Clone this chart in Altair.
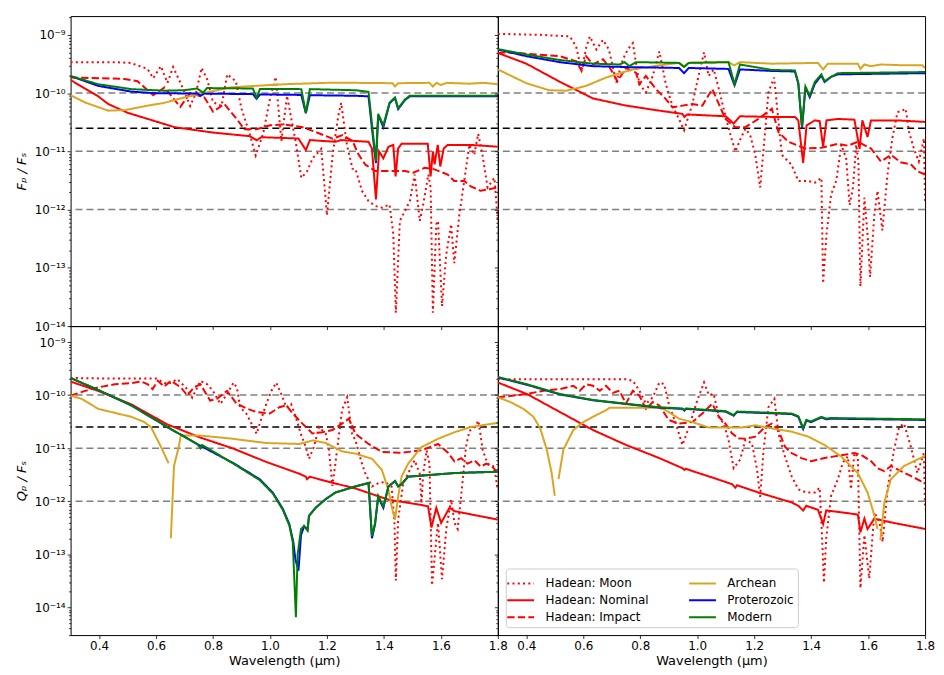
import altair as alt
import pandas as pd

SERIES = ["Hadean: Moon", "Hadean: Nominal", "Hadean: Impact", "Archean", "Proterozoic", "Modern"]
LEGEND_ORDER = SERIES
COLOR_OF = {"Hadean: Moon": "#ff0000", "Hadean: Nominal": "#ff0000", "Hadean: Impact": "#ff0000",
            "Archean": "#daa520", "Proterozoic": "#0000ff", "Modern": "#008000"}
DASH_OF = {"Hadean: Moon": [2, 3.3], "Hadean: Nominal": [1, 0], "Hadean: Impact": [7.4, 3.2],
           "Archean": [1, 0], "Proterozoic": [1, 0], "Modern": [1, 0]}

XTICKS = [0.4, 0.6, 0.8, 1.0, 1.2, 1.4, 1.6, 1.8]
HLINES_GRAY = [1e-10, 1e-11, 1e-12]
HLINE_BLACK = [2.5e-11]
GAP = None

# ---------------- top-left (F_p / F_s) ----------------
TL_MOON = [(0.30,3.4e-10),(0.45,3.4e-10),(0.51,3.3e-10),(0.57,2.6e-10),(0.59,1.8e-10),(0.617,2.9e-10),(0.64,1.5e-10),
           (0.66,2.8e-10),(0.69,1.35e-10),(0.72,6e-11),(0.74,1.0e-10),(0.76,2.7e-10),(0.78,1.7e-10),(0.80,7e-11),
           (0.83,6e-11),(0.85,2.1e-10),(0.88,1.6e-10),(0.90,5.4e-11),(0.93,1.9e-11),(0.95,8.5e-12),(0.976,2.0e-11),
           (1.00,8e-11),(1.02,1.9e-10),(1.04,1.5e-11),(1.06,9e-11),(1.075,3.6e-11),(1.09,1.5e-11),(1.11,3.5e-12),
           (1.13,4.5e-12),(1.15,7.6e-12),(1.18,1.1e-11),(1.195,1.6e-12),(1.20,8e-13),(1.22,8.7e-12),(1.24,4.1e-11),
           (1.25,6.8e-11),(1.27,1.3e-11),(1.29,5e-12),(1.30,5e-12),(1.323,2.1e-12),(1.346,1.4e-12),(1.37,1.15e-12),
           (1.393,1.08e-12),(1.42,1.22e-12),(1.433,3.8e-13),(1.442,1.7e-14),(1.456,6.4e-13),(1.474,9.5e-13),
           (1.491,1.4e-12),(1.508,4e-12),(1.526,6.4e-13),(1.538,1.22e-12),(1.556,4e-12),(1.564,2.4e-12),
           (1.572,1.7e-14),(1.584,5.6e-13),(1.59,6.4e-13),(1.604,2.2e-14),(1.619,1.7e-13),(1.636,5.6e-13),
           (1.647,1.2e-13),(1.665,8.3e-13),(1.682,3.1e-12),(1.70,1.3e-11),(1.717,8.7e-12),(1.731,2e-11),
           (1.746,8.7e-12),(1.764,2.4e-12),(1.788,3.5e-12),(1.80,6.4e-13)]
TL_NOM = [(0.30,1.68e-10),(0.35,1.2e-10),(0.397,8.8e-11),(0.432,6.5e-11),(0.50,4.6e-11),(0.571,3.6e-11),(0.665,2.6e-11),
          (0.80,2.1e-11),(0.93,1.82e-11),(0.953,1.55e-11),(0.97,1.75e-11),(1.10,1.66e-11),(1.126,1.05e-11),
          (1.14,1.56e-11),(1.23,1.46e-11),(1.25,1.56e-11),(1.346,1.46e-11),(1.358,1.12e-11),(1.372,1.5e-12),
          (1.383,1e-11),(1.398,7.6e-12),(1.416,1.2e-11),(1.433,1.29e-11),(1.441,3.7e-12),(1.45,1.12e-11),
          (1.462,1.35e-11),(1.554,1.35e-11),(1.564,3.7e-12),(1.572,1e-11),(1.578,6e-12),(1.589,1.29e-11),
          (1.598,5.5e-12),(1.61,1.12e-11),(1.624,1.29e-11),(1.705,1.29e-11),(1.80,1.2e-11)]
TL_IMP = [(0.30,1.85e-10),(0.40,1.8e-10),(0.49,1.75e-10),(0.535,1.6e-10),(0.59,9.2e-11),(0.63,1.25e-10),(0.685,5.8e-11),
          (0.72,1.0e-10),(0.77,8.4e-11),(0.80,4.8e-11),(0.84,6.5e-11),(0.883,3.6e-11),(0.91,2.4e-11),(0.953,2.4e-11),
          (1.00,2.8e-11),(1.05,2.9e-11),(1.115,2.6e-11),(1.16,2.15e-11),(1.22,1.65e-11),(1.255,1.9e-11),
          (1.29,1.5e-11),(1.31,9e-12),(1.335,5.9e-12),(1.37,4.6e-12),(1.416,4.6e-12),(1.474,4.6e-12),
          (1.503,4.3e-12),(1.543,5.2e-12),(1.578,4.9e-12),(1.624,4e-12),(1.647,3.1e-12),(1.682,3.1e-12),
          (1.705,2.5e-12),(1.74,2.1e-12),(1.80,2.4e-12)]
TL_ARC = [(0.30,9.2e-11),(0.351,6.9e-11),(0.432,5.0e-11),(0.49,5.1e-11),(0.571,6.1e-11),(0.629,6.8e-11),(0.698,8.4e-11),
          (0.768,1.0e-10),(0.86,1.25e-10),(0.947,1.33e-10),(1.05,1.42e-10),(1.20,1.5e-10),(1.30,1.5e-10),
          (1.43,1.48e-10),(1.439,1.3e-10),(1.45,1.48e-10),(1.56,1.5e-10),(1.572,1.3e-10),(1.585,1.5e-10),
          (1.60,1.38e-10),(1.62,1.5e-10),(1.70,1.45e-10),(1.75,1.5e-10),(1.80,1.42e-10)]
TL_PRO = [(0.30,1.96e-10),(0.397,1.33e-10),(0.513,1.06e-10),(0.59,1.0e-10),(0.745,9.8e-11),(0.757,9e-11),(0.77,9.8e-11),
          (0.94,9.6e-11),(0.953,8.0e-11),(0.965,9.5e-11),(1.11,9.3e-11),(1.126,4.5e-11),(1.14,9.2e-11),(1.30,9e-11),
          (1.346,8.8e-11),(1.358,2.5e-11),(1.372,6.3e-12),(1.38,4.2e-11),(1.398,2.6e-11),(1.42,6.7e-11),
          (1.439,8.2e-11),(1.45,5.3e-11),(1.474,7.6e-11),(1.491,8.8e-11),(1.80,8.8e-11)]
TL_MOD = [(0.30,1.96e-10),(0.397,1.42e-10),(0.513,1.17e-10),(0.629,1.1e-10),(0.698,1.12e-10),(0.744,1.2e-10),
          (0.765,1.02e-10),(0.779,1.22e-10),(0.94,1.2e-10),(0.953,8.3e-11),(0.965,1.18e-10),(1.11,1.17e-10),
          (1.126,4.6e-11),(1.14,1.17e-10),(1.30,1.12e-10),(1.346,1.05e-10),(1.358,3.0e-11),(1.372,6.7e-12),
          (1.38,4.4e-11),(1.398,2.8e-11),(1.42,6.9e-11),(1.439,8.4e-11),(1.45,5.5e-11),(1.474,7.8e-11),
          (1.491,9e-11),(1.80,9e-11)]

# ---------------- top-right (F_p / F_s) ----------------
TR_MOON = [(0.30,1.04e-9),(0.45,1.0e-9),(0.553,9.4e-10),(0.575,6.3e-10),(0.594,2.4e-10),(0.61,6e-10),(0.623,9.4e-10),
           (0.646,5.6e-10),(0.669,8.2e-10),(0.69,5.6e-10),(0.716,1.52e-10),(0.739,3.8e-10),(0.756,5.6e-10),
           (0.774,7.2e-10),(0.797,1.42e-10),(0.82,1.03e-10),(0.844,1.97e-10),(0.867,5.2e-10),(0.89,1.42e-10),
           (0.913,6.1e-11),(0.936,3.6e-11),(0.954,2.3e-11),(0.983,6.5e-11),(1.006,2.1e-10),(1.024,5.0e-10),
           (1.04,1.97e-10),(1.058,2.55e-10),(1.076,1.17e-10),(1.099,4.1e-11),(1.117,1.9e-11),(1.134,9.9e-12),
           (1.15,1.56e-11),(1.169,2.45e-11),(1.186,1.9e-11),(1.204,8.7e-12),(1.221,2.4e-12),(1.233,1.1e-11),
           (1.25,1.03e-10),(1.27,1.85e-10),(1.297,8.7e-12),(1.331,5.9e-12),(1.355,3.1e-12),(1.39,3.1e-12),
           (1.413,2.9e-12),(1.436,3.5e-12),(1.442,5.4e-14),(1.454,3.8e-13),(1.47,1.8e-12),(1.488,3.1e-12),
           (1.506,1.3e-11),(1.523,7.6e-12),(1.535,1.2e-12),(1.547,2.4e-12),(1.558,1.3e-11),(1.566,6.7e-12),
           (1.573,4.8e-14),(1.587,1.6e-12),(1.598,3.8e-13),(1.607,7e-14),(1.622,8.3e-13),(1.633,2.1e-12),
           (1.65,4.4e-13),(1.668,4e-12),(1.685,1.66e-11),(1.703,4.7e-11),(1.72,5e-11),(1.732,5.4e-11),
           (1.744,2.15e-11),(1.761,1.1e-11),(1.778,6.7e-12),(1.796,1.66e-11),(1.80,1.4e-12)]
TR_NOM = [(0.30,4.9e-10),(0.40,3.2e-10),(0.518,1.56e-10),(0.634,8.1e-11),(0.75,6.1e-11),(0.867,5.0e-11),(0.948,4.4e-11),
          (0.955,3.9e-11),(0.965,4.3e-11),(1.10,4.0e-11),(1.128,3.0e-11),(1.15,4.0e-11),(1.262,3.9e-11),
          (1.343,3.9e-11),(1.355,3.4e-11),(1.372,6.3e-12),(1.384,2.8e-11),(1.413,3.4e-11),(1.43,3.3e-11),
          (1.442,1.2e-11),(1.454,3.4e-11),(1.494,3.6e-11),(1.552,3.5e-11),(1.57,1.1e-11),(1.58,3.4e-11),
          (1.598,1.77e-11),(1.61,3.4e-11),(1.703,3.4e-11),(1.80,3.2e-11)]
TR_IMP = [(0.30,4.9e-10),(0.344,5.0e-10),(0.437,4.6e-10),(0.518,4.3e-10),(0.576,3.5e-10),(0.594,2.4e-10),(0.61,4.3e-10),
          (0.634,3.1e-10),(0.669,3.8e-10),(0.69,2.9e-10),(0.72,1.6e-10),(0.75,2.7e-10),(0.785,2.24e-10),
          (0.797,1.42e-10),(0.82,1.97e-10),(0.855,1.17e-10),(0.89,7.9e-11),(0.913,5.7e-11),(0.948,6.1e-11),
          (0.983,6.5e-11),(1.018,6.1e-11),(1.053,1.17e-10),(1.099,3.6e-11),(1.134,2.6e-11),(1.169,2.6e-11),
          (1.215,3.6e-11),(1.262,5.4e-11),(1.285,2.15e-11),(1.32,1.46e-11),(1.378,1.12e-11),(1.436,1.15e-11),
          (1.494,1.35e-11),(1.529,1.25e-11),(1.564,1.46e-11),(1.61,1.12e-11),(1.645,6.7e-12),(1.68,8.7e-12),
          (1.714,6.5e-12),(1.75,6e-12),(1.772,4.6e-12),(1.80,4e-12)]
TR_ARC = [(0.30,2.55e-10),(0.40,1.48e-10),(0.48,1.12e-10),(0.54,1.1e-10),(0.61,1.33e-10),(0.68,1.85e-10),(0.774,2.55e-10),
          (0.867,3.0e-10),(0.936,3.3e-10),(0.954,2.9e-10),(0.97,3.3e-10),(1.11,3.4e-10),(1.13,3.0e-10),(1.15,3.4e-10),
          (1.262,3.2e-10),(1.424,3.3e-10),(1.442,2.55e-10),(1.459,3.2e-10),(1.564,3.2e-10),(1.573,2.6e-10),
          (1.587,3.1e-10),(1.61,2.9e-10),(1.645,3.1e-10),(1.726,3.0e-10),(1.79,3.0e-10),(1.80,2.7e-10)]
TR_PRO = [(0.30,5.6e-10),(0.40,4.3e-10),(0.518,3.4e-10),(0.634,2.9e-10),(0.75,2.8e-10),(0.936,2.7e-10),(0.954,2.2e-10),
          (0.97,2.7e-10),(1.11,2.6e-10),(1.131,1.36e-10),(1.15,2.55e-10),(1.262,2.4e-10),(1.343,2.35e-10),
          (1.355,1.45e-10),(1.368,2.5e-11),(1.38,1.25e-10),(1.395,8.5e-11),(1.413,1.45e-10),(1.436,2.0e-10),
          (1.447,1.55e-10),(1.47,1.9e-10),(1.494,2.1e-10),(1.80,2.2e-10)]
TR_MOD = [(0.30,5.7e-10),(0.40,4.6e-10),(0.518,3.7e-10),(0.634,3.2e-10),(0.727,3.1e-10),(0.745,3.4e-10),(0.762,2.9e-10),
          (0.785,3.4e-10),(0.936,3.3e-10),(0.954,2.8e-10),(0.97,3.3e-10),(1.11,3.4e-10),(1.131,1.42e-10),
          (1.15,3.1e-10),(1.262,2.5e-10),(1.343,2.45e-10),(1.355,1.5e-10),(1.368,2.6e-11),(1.38,1.3e-10),
          (1.395,9e-11),(1.413,1.55e-10),(1.436,2.1e-10),(1.447,1.6e-10),(1.47,1.9e-10),(1.494,2.2e-10),(1.80,2.3e-10)]

# ---------------- bottom-left (Q_p / F_s) ----------------
BL_MOON = [(0.30,2.1e-10),(0.45,2.05e-10),(0.60,2.05e-10),(0.64,1.6e-10),(0.675,2.0e-10),(0.71,1.29e-10),(0.727,9e-11),
           (0.756,1.84e-10),(0.78,1.6e-10),(0.80,1.2e-10),(0.826,6.8e-11),(0.849,1.04e-10),(0.872,1.72e-10),
           (0.884,1.38e-10),(0.895,5.9e-11),(0.918,4.4e-11),(0.941,2.5e-11),(0.953,1.87e-11),(0.964,2.9e-11),
           (0.987,6.8e-11),(1.005,1.2e-10),(1.022,1.72e-10),(1.04,1.04e-10),(1.057,5.9e-11),(1.074,6.8e-11),
           (1.091,3.8e-11),(1.108,1.87e-11),(1.126,1.05e-11),(1.137,6.3e-12),(1.154,1.05e-11),(1.172,2.5e-11),
           (1.196,1.87e-11),(1.207,9.3e-12),(1.219,1.94e-12),(1.23,5.3e-12),(1.253,5.2e-11),(1.271,9.1e-11),
           (1.288,1.9e-11),(1.30,1.4e-11),(1.323,5.1e-12),(1.335,3.3e-12),(1.358,1.9e-12),(1.381,2.2e-12),
           (1.404,2.3e-12),(1.427,1.9e-12),(1.437,3.9e-13),(1.442,3.2e-14),(1.45,4.5e-13),(1.468,2.2e-12),
           (1.491,3.9e-12),(1.508,5.9e-12),(1.526,3.3e-12),(1.532,9.1e-13),(1.538,3.3e-12),(1.55,9.1e-12),
           (1.56,5.1e-12),(1.569,2.6e-14),(1.584,1.9e-13),(1.59,3.9e-13),(1.604,3.4e-14),(1.619,3.0e-13),
           (1.636,1.07e-12),(1.648,3.9e-13),(1.659,3.0e-13),(1.671,1.23e-12),(1.688,1.05e-11),(1.70,2.1e-11),
           (1.718,2.5e-11),(1.732,3.3e-11),(1.747,9.1e-12),(1.764,5.1e-12),(1.787,4.5e-12),(1.80,1.6e-12)]
BL_NOM = [(0.30,1.8e-10),(0.397,1.2e-10),(0.513,6.7e-11),(0.64,2.8e-11),(0.756,1.58e-11),(0.872,9.8e-12),(0.987,5.5e-12),
          (1.103,3.3e-12),(1.126,2.9e-12),(1.13,2.6e-12),(1.14,2.9e-12),(1.196,2.4e-12),(1.30,1.74e-12),
          (1.416,1.07e-12),(1.532,8.5e-13),(1.555,8e-13),(1.567,3.2e-13),(1.584,7.5e-13),(1.601,3.9e-13),
          (1.63,7.5e-13),(1.648,6.5e-13),(1.80,4.5e-13)]
BL_IMP = [(0.30,9.8e-11),(0.351,1.2e-10),(0.397,1.4e-10),(0.455,1.6e-10),(0.513,1.68e-10),(0.548,1.8e-10),(0.571,1.6e-10),
          (0.588,1.3e-10),(0.606,1.86e-10),(0.629,1.45e-10),(0.652,1.86e-10),(0.687,1.4e-10),(0.71,9.8e-11),
          (0.733,1.4e-10),(0.756,1.6e-10),(0.79,7.9e-11),(0.814,8.5e-11),(0.849,1.2e-10),(0.883,6.9e-11),
          (0.918,5.6e-11),(0.952,4.8e-11),(0.999,4.5e-11),(1.033,5.9e-11),(1.057,6.4e-11),(1.08,4.5e-11),
          (1.114,2.9e-11),(1.149,1.9e-11),(1.184,2.0e-11),(1.219,2.2e-11),(1.253,2.9e-11),(1.277,3.6e-11),
          (1.30,1.87e-11),(1.346,1.2e-11),(1.393,8.5e-12),(1.462,8.2e-12),(1.532,9.1e-12),(1.59,1.2e-11),
          (1.625,8.2e-12),(1.648,5.6e-12),(1.671,6.5e-12),(1.694,5.1e-12),(1.718,5.9e-12),(1.74,4.5e-12),
          (1.76,5.1e-12),(1.78,4.5e-12),(1.80,3.4e-12)]
BL_ARC = [(0.30,9.8e-11),(0.339,8.5e-11),(0.397,5.5e-11),(0.513,3.9e-11),(0.559,3.1e-11),(0.582,2.5e-11),(0.617,1.07e-11),
          (0.644,5.2e-12), GAP,
          (0.652,2.0e-13),(0.663,4.6e-12),(0.68,1.07e-11),(0.687,1.73e-11),(0.756,1.73e-11),(0.872,1.5e-11),
          (0.987,1.25e-11),(1.103,1.2e-11),(1.15,1.4e-11),(1.196,1.25e-11),(1.253,8.7e-12),(1.30,7.9e-12),
          (1.358,6.3e-12),(1.393,3.9e-12),(1.416,1.6e-12),(1.427,8e-13),(1.439,4.5e-13),(1.45,1.23e-12),
          (1.462,2.9e-12),(1.485,5.1e-12),(1.532,1.05e-11),(1.59,1.5e-11),(1.648,2.0e-11),(1.705,2.5e-11),
          (1.80,3.0e-11)]
BL_PRO = [(0.30,2.1e-10),(0.397,1.25e-10),(0.513,6.4e-11),(0.64,2.5e-11),(0.744,1.2e-11),(0.872,5.2e-12),(0.964,2.6e-12),
          (1.01,1.45e-12),(1.045,7.2e-13),(1.068,3.7e-13),(1.082,1.7e-13),(1.089,8.1e-14),(1.10,4.9e-14),
          (1.109,2.3e-13),(1.12,3.4e-13),(1.132,2.9e-13),(1.137,5.3e-13),(1.16,7.5e-13),(1.196,1.1e-12),
          (1.23,1.46e-12),(1.30,1.9e-12),(1.346,2.2e-12),(1.358,2.0e-13),(1.369,3.7e-13),(1.38,1.2e-12),
          (1.398,7.5e-13),(1.416,1.9e-12),(1.439,2.4e-12),(1.45,1.9e-12),(1.462,2.1e-12),(1.485,2.9e-12),
          (1.648,3.4e-12),(1.80,3.6e-12)]
BL_MOD = [(0.30,2.1e-10),(0.397,1.25e-10),(0.513,6.4e-11),(0.64,2.5e-11),(0.744,1.2e-11),(0.756,1.0e-11),(0.762,1.15e-11),
          (0.872,5.1e-12),(0.964,2.5e-12),(1.01,1.4e-12),(1.045,6.9e-13),(1.068,3.5e-13),(1.08,1.7e-13),
          (1.091,6.5e-15),(1.097,9.7e-14),(1.109,3.0e-13),(1.12,3.4e-13),(1.132,2.8e-13),(1.137,5.3e-13),
          (1.16,7.5e-13),(1.196,1.1e-12),(1.23,1.46e-12),(1.30,1.9e-12),(1.346,2.2e-12),(1.358,2.2e-13),
          (1.369,3.9e-13),(1.38,1.26e-12),(1.398,8e-13),(1.416,1.9e-12),(1.439,2.4e-12),(1.45,1.9e-12),
          (1.462,2.1e-12),(1.485,2.9e-12),(1.648,3.4e-12),(1.80,3.6e-12)]

# ---------------- bottom-right (Q_p / F_s) ----------------
BR_MOON = [(0.30,2.0e-10),(0.50,2.0e-10),(0.75,2.0e-10),(0.774,1.86e-10),(0.797,1.21e-10),(0.82,6.9e-11),(0.844,9.1e-11),
           (0.867,1.73e-10),(0.884,1.61e-10),(0.90,6.9e-11),(0.925,2.9e-11),(0.948,1.15e-11),(0.971,2.5e-11),
           (1.0,7.9e-11),(1.024,1.73e-10),(1.041,1.0e-10),(1.058,1.05e-10),(1.076,3.9e-11),(1.093,2.9e-11),
           (1.11,1.43e-11),(1.128,4.2e-12),(1.151,6.1e-12),(1.169,1.43e-11),(1.192,1.24e-11),(1.21,4.0e-12),
           (1.221,1.2e-12),(1.233,9.3e-12),(1.25,5.9e-11),(1.271,8.5e-11),(1.285,1.9e-11),(1.308,7.0e-12),
           (1.331,3.0e-12),(1.355,1.68e-12),(1.383,1.46e-12),(1.413,1.46e-12),(1.43,1.8e-12),(1.436,4.0e-13),
           (1.445,2.9e-14),(1.453,2.0e-13),(1.47,1.26e-12),(1.494,2.6e-12),(1.511,5.3e-12),(1.529,7.0e-12),
           (1.54,1.68e-12),(1.552,8.1e-12),(1.564,7.0e-12),(1.573,2.3e-14),(1.587,2.3e-13),(1.604,3.5e-14),
           (1.622,6.2e-13),(1.64,4.0e-13),(1.651,1.7e-13),(1.668,1.68e-12),(1.691,9.3e-12),(1.709,2.5e-11),
           (1.726,2.9e-11),(1.75,1.07e-11),(1.773,3.4e-12),(1.796,8.1e-12),(1.80,7.1e-13)]
BR_NOM = [(0.30,1.73e-10),(0.402,1.05e-10),(0.518,4.8e-11),(0.634,2.2e-11),(0.75,1.15e-11),(0.867,6.5e-12),(0.948,4.2e-12),
          (0.955,3.9e-12),(0.96,4.1e-12),(0.983,3.7e-12),(1.053,2.8e-12),(1.122,2.1e-12),(1.134,1.8e-12),
          (1.14,2.0e-12),(1.215,1.46e-12),(1.331,9.5e-13),(1.355,8.2e-13),(1.372,6.7e-13),(1.383,8.2e-13),
          (1.424,6.9e-13),(1.442,3.7e-13),(1.453,6.7e-13),(1.505,6.2e-13),(1.564,5.6e-13),(1.573,2.6e-13),
          (1.587,4.7e-13),(1.598,3.0e-13),(1.622,4.7e-13),(1.68,4.0e-13),(1.80,3.0e-13)]
BR_IMP = [(0.30,9.1e-11),(0.356,9.8e-11),(0.402,1.05e-10),(0.46,1.21e-10),(0.518,1.3e-10),(0.565,1.5e-10),(0.588,1.21e-10),
          (0.61,1.6e-10),(0.634,1.5e-10),(0.658,1.21e-10),(0.68,1.5e-10),(0.704,1.1e-10),(0.727,1.21e-10),
          (0.75,6.9e-11),(0.774,1.21e-10),(0.797,9.8e-11),(0.82,5.5e-11),(0.844,7.4e-11),(0.867,6.4e-11),
          (0.90,3.4e-11),(0.936,2.9e-11),(0.983,3.1e-11),(1.018,4.5e-11),(1.053,6.9e-11),(1.076,3.9e-11),
          (1.099,2.9e-11),(1.122,1.9e-11),(1.145,1.53e-11),(1.169,1.5e-11),(1.204,1.65e-11),(1.238,2.5e-11),
          (1.262,2.9e-11),(1.285,2.2e-11),(1.308,1.07e-11),(1.331,8.1e-12),(1.366,6.5e-12),(1.40,5.7e-12),
          (1.447,6.5e-12),(1.482,7e-12),(1.517,7.5e-12),(1.552,8.1e-12),(1.575,7.5e-12),(1.61,5.7e-12),
          (1.633,4.2e-12),(1.657,3.7e-12),(1.68,4.6e-12),(1.715,3.7e-12),(1.75,3.0e-12),(1.785,2.4e-12),(1.80,2.2e-12)]
BR_ARC = [(0.30,9.1e-11),(0.344,7.4e-11),(0.39,5.5e-11),(0.425,3.9e-11),(0.449,2.35e-11),(0.472,9.3e-12),(0.489,3.4e-12),
          (0.50,1.26e-12), GAP,
          (0.513,2.6e-12),(0.53,9.3e-12),(0.565,2.2e-11),(0.60,3.1e-11),(0.634,3.9e-11),(0.68,5.2e-11),(0.693,5.8e-11),
          (0.867,5.8e-11),(0.89,5.2e-11),(0.936,3.6e-11),(0.983,3.1e-11),(1.041,2.45e-11),(1.157,2.45e-11),
          (1.204,2.7e-11),(1.273,2.3e-11),(1.331,2.05e-11),(1.39,1.65e-11),(1.447,1.15e-11),(1.505,7e-12),
          (1.564,3.4e-12),(1.598,1.46e-12),(1.622,5.4e-13),(1.633,3.0e-13), GAP,
          (1.643,1.85e-13),(1.657,9.5e-13),(1.68,2.6e-12),(1.726,4.6e-12),(1.773,6.1e-12),(1.80,7.2e-12)]
BR_PRO = [(0.30,2.15e-10),(0.402,1.57e-10),(0.518,1.03e-10),(0.634,8.0e-11),(0.75,6.8e-11),(0.867,5.8e-11),(0.948,5.5e-11),
          (0.955,5.1e-11),(0.96,5.5e-11),(1.099,4.9e-11),(1.128,4.1e-11),(1.14,4.8e-11),(1.331,4.4e-11),
          (1.355,3.9e-11),(1.372,2.3e-11),(1.383,3.3e-11),(1.40,3.1e-11),(1.436,3.8e-11),(1.453,3.5e-11),
          (1.471,3.6e-11),(1.80,3.4e-11)]
BR_MOD = [(0.30,2.2e-10),(0.402,1.6e-10),(0.518,1.05e-10),(0.634,8.1e-11),(0.75,6.9e-11),(0.867,5.9e-11),(0.948,5.6e-11),
          (0.955,5.2e-11),(0.96,5.6e-11),(1.099,5.0e-11),(1.128,4.2e-11),(1.14,4.9e-11),(1.331,4.5e-11),
          (1.355,4.0e-11),(1.372,2.4e-11),(1.383,3.4e-11),(1.40,3.2e-11),(1.436,3.9e-11),(1.453,3.6e-11),
          (1.471,3.7e-11),(1.80,3.5e-11)]

PANELS = {
    "TL": dict(zip(SERIES, [TL_MOON, TL_NOM, TL_IMP, TL_ARC, TL_PRO, TL_MOD])),
    "TR": dict(zip(SERIES, [TR_MOON, TR_NOM, TR_IMP, TR_ARC, TR_PRO, TR_MOD])),
    "BL": dict(zip(SERIES, [BL_MOON, BL_NOM, BL_IMP, BL_ARC, BL_PRO, BL_MOD])),
    "BR": dict(zip(SERIES, [BR_MOON, BR_NOM, BR_IMP, BR_ARC, BR_PRO, BR_MOD])),
}

rows = []
for key, smap in PANELS.items():
    for name in SERIES:
        seg = 0
        for p in smap[name]:
            if p is None:
                seg += 1
                continue
            rows.append({"panel": key, "series": name, "seg": f"{name}|{seg}", "x": p[0], "y": p[1]})
df = pd.DataFrame(rows)

FONT = "DejaVu Sans"
TOP_DOMAIN = [1e-14, 2.1e-9]
BOT_DOMAIN = [3e-15, 2.0e-9]


def log_ticks(lo, hi):
    vals = []
    for k in range(-16, -7):
        for m in range(1, 10):
            v = float(f"{m}e{k}")
            if lo * 0.999 <= v <= hi * 1.001:
                vals.append(v)
    return vals


EXP = "round(log(datum.value)/LN10)"
IS_DEC = f"abs(log(datum.value)/LN10 - {EXP}) < 0.01"
SUP = {-9: "⁻⁹", -10: "⁻¹⁰", -11: "⁻¹¹", -12: "⁻¹²", -13: "⁻¹³", -14: "⁻¹⁴", -15: "⁻¹⁵"}
inner = "''"
for k, s in SUP.items():
    inner = f"({EXP} == {k}) ? '10{s}' : ({inner})"
LABEL_EXPR = f"({IS_DEC}) ? ({inner}) : ''"

COLOR_RANGE = [COLOR_OF[s] for s in LEGEND_ORDER]
DASH_RANGE = [DASH_OF[s] for s in LEGEND_ORDER]

W = 430
H_TOP = 312
H_BOT = 311


def make_panel(key, ydom, is_top, is_left, legend, ytitle):
    d = df[df["panel"] == key]
    yt = log_ticks(*ydom)
    yscale = alt.Scale(type="log", domain=ydom, nice=False)
    xscale = alt.Scale(domain=[0.3, 1.8], nice=False, zero=False)

    axis_kw = dict(values=yt, tickSize={"condition": {"test": IS_DEC, "value": 3.5}, "value": 2},
                   tickWidth=0.8, tickColor="black", domain=False, grid=False, labelOverlap=False,
                   labelPadding=2, titlePadding=6)
    if is_left:
        yaxis = alt.Axis(labelExpr=LABEL_EXPR, title=ytitle, titleFontStyle="italic", **axis_kw)
    else:
        yaxis = alt.Axis(labels=False, title=None, **axis_kw)

    if is_top:
        xaxis = alt.Axis(values=XTICKS, labels=False, title=None, tickSize=3.5, tickWidth=0.8,
                         tickColor="black", domain=False, grid=False)
    else:
        xaxis = alt.Axis(values=XTICKS, format=".1f", title="Wavelength (μm)", tickSize=3.5, tickWidth=0.8,
                         tickColor="black", domain=False, grid=False, labelFlush=False, labelPadding=2,
                         titlePadding=3)

    if legend:
        leg = alt.Legend(orient="bottom-left", columns=2, title=None, symbolType="M-1.35,0H1.35",
                         symbolSize=400, symbolStrokeWidth=2, labelFontSize=12, labelFont=FONT,
                         labelColor="black", labelOffset=14, padding=4, rowPadding=0, columnPadding=36,
                         strokeColor="#cccccc", fillColor="rgba(255,255,255,0.85)", cornerRadius=3,
                         offset=8, labelLimit=250)
    else:
        leg = None

    gray = alt.Chart(pd.DataFrame({"v": HLINES_GRAY})).mark_rule(
        color="#808080", strokeWidth=1.5, strokeDash=[7, 4]).encode(
        y=alt.Y("v:Q", scale=yscale, axis=yaxis))
    black = alt.Chart(pd.DataFrame({"v": HLINE_BLACK})).mark_rule(
        color="black", strokeWidth=1.5, strokeDash=[7, 4]).encode(
        y=alt.Y("v:Q", scale=yscale, axis=yaxis))
    lines = alt.Chart(d).mark_line(strokeWidth=2, clip=True).encode(
        x=alt.X("x:Q", scale=xscale, axis=xaxis),
        y=alt.Y("y:Q", scale=yscale, axis=yaxis),
        color=alt.Color("series:N", scale=alt.Scale(domain=LEGEND_ORDER, range=COLOR_RANGE), legend=leg),
        strokeDash=alt.StrokeDash("series:N", scale=alt.Scale(domain=LEGEND_ORDER, range=DASH_RANGE), legend=leg),
        detail="seg:N",
    )
    return alt.layer(gray, black, lines).properties(width=W, height=H_TOP if is_top else H_BOT)


tl = make_panel("TL", TOP_DOMAIN, True, True, False, "Fₚ / Fₛ")
tr = make_panel("TR", TOP_DOMAIN, True, False, False, "")
bl = make_panel("BL", BOT_DOMAIN, False, True, False, "Qₚ / Fₛ")
br = make_panel("BR", BOT_DOMAIN, False, False, True, "")

chart = alt.concat(tl, tr, bl, br, columns=2, spacing=0, bounds="flush").resolve_scale(
    color="independent", strokeDash="independent"
).properties(
    padding={"left": 6, "top": 0, "right": 0, "bottom": 0}
).configure_view(
    stroke="black", strokeWidth=1
).configure_axis(
    labelFont=FONT, titleFont=FONT, labelFontSize=12, titleFontSize=13, labelColor="black",
    titleColor="black", titleFontWeight="normal"
).configure_legend(
    labelFont=FONT
)

chart.save("out.html", embed_options={"renderer": "svg", "actions": False})
